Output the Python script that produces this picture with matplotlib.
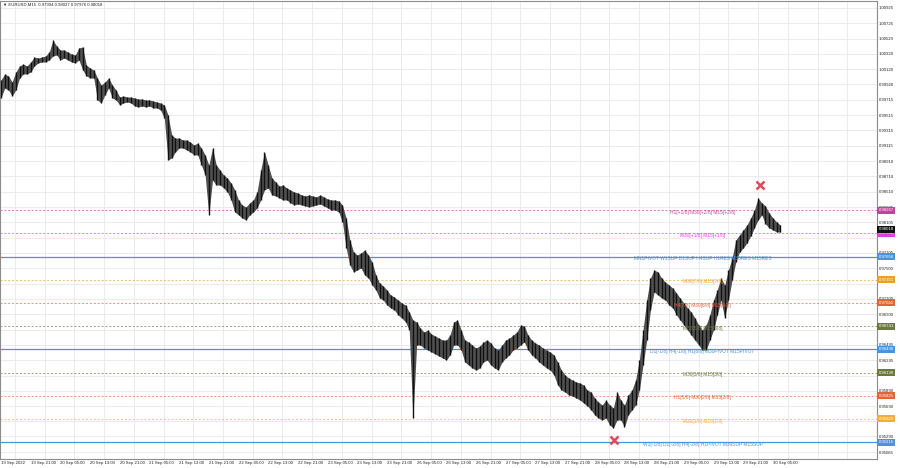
import numpy as np
import matplotlib
matplotlib.use("Agg")
import matplotlib.pyplot as plt
import matplotlib.transforms as mtransforms

plt.rcParams['font.family'] = ['Liberation Sans', 'DejaVu Sans']

# hourly high / low of EURUSD (bar index = hour)
hi = [0.99978, 1.00057, 1.00031, 0.99952, 1.00083, 1.00162, 1.00188, 1.00162, 1.00215, 1.00280,
      1.00267, 1.00280, 1.00294, 1.00346, 1.00504, 1.00425, 1.00373, 1.00373, 1.00346, 1.00320,
      1.00307, 1.00399, 1.00412, 1.00175, 1.00136, 1.00110, 1.00004, 0.99912, 0.99952, 1.00004,
      0.99912, 0.99847, 0.99754, 0.99768, 0.99754, 0.99754, 0.99741, 0.99728, 0.99728, 0.99715,
      0.99715, 0.99702, 0.99689, 0.99676, 0.99649, 0.99518, 0.99255, 0.99215, 0.99215, 0.99189,
      0.99189, 0.99163, 0.99123, 0.99150, 0.99084, 0.98992, 0.98860, 0.99084, 0.98860, 0.98795,
      0.98729, 0.98689, 0.98624, 0.98532, 0.98400, 0.98334, 0.98308, 0.98361, 0.98400, 0.98505,
      0.98795, 0.99031, 0.98860, 0.98689, 0.98637, 0.98584, 0.98597, 0.98558, 0.98532, 0.98505,
      0.98492, 0.98466, 0.98453, 0.98466, 0.98453, 0.98440, 0.98466, 0.98440, 0.98413, 0.98400,
      0.98400, 0.98387, 0.98334, 0.98163, 0.97874, 0.97716, 0.97676, 0.97703, 0.97742, 0.97676,
      0.97584, 0.97413, 0.97308, 0.97268, 0.97216, 0.97150, 0.97124, 0.97084, 0.97045, 0.97018,
      0.96926, 0.96821, 0.96795, 0.96716, 0.96663, 0.96690, 0.96637, 0.96611, 0.96584, 0.96558,
      0.96558, 0.96624, 0.96795, 0.96821, 0.96690, 0.96558, 0.96532, 0.96492, 0.96453, 0.96479,
      0.96532, 0.96558, 0.96519, 0.96453, 0.96426, 0.96492, 0.96558, 0.96584, 0.96624, 0.96663,
      0.96755, 0.96742, 0.96624, 0.96558, 0.96519, 0.96492, 0.96453, 0.96426, 0.96400, 0.96361,
      0.96268, 0.96163, 0.96097, 0.96058, 0.96032, 0.96005, 0.95992, 0.95966, 0.95900, 0.95874,
      0.95795, 0.95742, 0.95703, 0.95769, 0.95703, 0.95664, 0.95874, 0.95769, 0.95703, 0.95834,
      0.95900, 0.96032, 0.96295, 0.96690, 0.97084, 0.97374, 0.97479, 0.97453, 0.97374, 0.97321,
      0.97282, 0.97242, 0.97176, 0.97110, 0.97045, 0.96979, 0.96926, 0.96847, 0.96755, 0.96690,
      0.96755, 0.96887, 0.97084, 0.97216, 0.97374, 0.97282, 0.97479, 0.97637, 0.97874, 0.97940,
      0.98005, 0.98071, 0.98163, 0.98268, 0.98426, 0.98361, 0.98321, 0.98229, 0.98163, 0.98111,
      0.98071]
lo = [0.99741, 0.99873, 0.99847, 0.99768, 0.99847, 1.00004, 1.00057, 1.00057, 1.00083, 1.00162,
      1.00202, 1.00215, 1.00215, 1.00241, 1.00294, 1.00307, 1.00241, 1.00267, 1.00241, 1.00215,
      1.00202, 1.00241, 1.00110, 1.00031, 1.00004, 1.00004, 0.99715, 0.99676, 0.99781, 0.99873,
      0.99741, 0.99715, 0.99649, 0.99676, 0.99689, 0.99676, 0.99636, 0.99623, 0.99636, 0.99623,
      0.99636, 0.99610, 0.99610, 0.99583, 0.99478, 0.98926, 0.98952, 0.99031, 0.99084, 0.99084,
      0.99058, 0.99031, 0.98992, 0.98992, 0.98860, 0.98729, 0.98203, 0.98663, 0.98597, 0.98597,
      0.98558, 0.98505, 0.98400, 0.98242, 0.98203, 0.98163, 0.98137, 0.98203, 0.98242, 0.98295,
      0.98400, 0.98532, 0.98558, 0.98466, 0.98453, 0.98426, 0.98400, 0.98400, 0.98361, 0.98334,
      0.98347, 0.98334, 0.98321, 0.98308, 0.98321, 0.98334, 0.98347, 0.98321, 0.98295, 0.98268,
      0.98268, 0.98242, 0.98111, 0.97768, 0.97545, 0.97453, 0.97479, 0.97505, 0.97413, 0.97374,
      0.97282, 0.97216, 0.97110, 0.97084, 0.97018, 0.96979, 0.96953, 0.96887, 0.96847, 0.96795,
      0.96690, 0.95532, 0.96492, 0.96492, 0.96453, 0.96426, 0.96400, 0.96374, 0.96347, 0.96321,
      0.96295, 0.96361, 0.96492, 0.96492, 0.96426, 0.96268, 0.96229, 0.96189, 0.96163, 0.96189,
      0.96268, 0.96295, 0.96229, 0.96189, 0.96163, 0.96268, 0.96321, 0.96361, 0.96426, 0.96453,
      0.96492, 0.96532, 0.96426, 0.96361, 0.96321, 0.96268, 0.96229, 0.96189, 0.96163, 0.96097,
      0.95966, 0.95900, 0.95874, 0.95834, 0.95821, 0.95795, 0.95769, 0.95729, 0.95690, 0.95637,
      0.95571, 0.95532, 0.95506, 0.95532, 0.95440, 0.95401, 0.95506, 0.95506, 0.95414, 0.95571,
      0.95637, 0.95703, 0.95900, 0.96229, 0.96558, 0.96953, 0.97189, 0.97150, 0.97110, 0.97084,
      0.97018, 0.96979, 0.96887, 0.96821, 0.96755, 0.96690, 0.96624, 0.96558, 0.96492, 0.96426,
      0.96426, 0.96558, 0.96690, 0.96887, 0.97084, 0.96847, 0.97084, 0.97347, 0.97584, 0.97716,
      0.97768, 0.97834, 0.97926, 0.98032, 0.98137, 0.98203, 0.98084, 0.98032, 0.98005, 0.97979,
      0.97979]

# support / resistance levels
levels = [0.98267, 0.97963, 0.97656, 0.97351, 0.97045, 0.96741,
          0.96436, 0.96130, 0.95825, 0.95520, 0.95215]
level_text = ["H1[+1/8] M30[+2/8] M15[+2/8]",
              "M30[+1/8] M15[+1/8]",
              "MN1PIVOT W1SUP D1SUP H4SUP H1RES M30RES M15RES",
              "M30[7/8] M15[7/8]",
              "H4[7/8] M30[6/8] M15[6/8]",
              "M30[5/8] M15[5/8]",
              "D1[-1/8] H4[-1/8] H1[8/8] M30PIVOT M15PIVOT",
              "M30[3/8] M15[3/8]",
              "H1[5/8] M30[2/8] M15[2/8]",
              "M30[1/8] M15[1/8]",
              "W1[-1/8] D1[-2/8] H4[-2/8] H1PIVOT M30SUP M15SUP"]
level_color = ["#c8409e", "#e040e0", "#4a94dc", "#eca02c", "#e4643a", "#6b7a3c",
               "#4a94dc", "#6b7a3c", "#e4643a", "#f0b038", "#4a94dc"]
level_solid = [False, False, True, False, False, False, True, False, False, False, True]

# price scale labels
price_ticks = [1.00925, 1.00725, 1.00520, 1.00320, 1.00120, 0.99920, 0.99715, 0.99515,
               0.99315, 0.99115, 0.98910, 0.98710, 0.98510, 0.98305, 0.98105, 0.97905,
               0.97705, 0.97500, 0.97300, 0.97100, 0.96900, 0.96695, 0.96495, 0.96295,
               0.96090, 0.95890, 0.95690, 0.95490, 0.95290, 0.95085]
hidden_ticks = [0.97905, 0.97300, 0.96695, 0.96090, 0.95490]

time_labels = ["19 Sep 2022", "19 Sep 21:00", "20 Sep 05:00", "20 Sep 13:00", "20 Sep 21:00",
               "21 Sep 05:00", "21 Sep 13:00", "21 Sep 21:00", "22 Sep 05:00", "22 Sep 13:00",
               "22 Sep 21:00", "23 Sep 05:00", "23 Sep 13:00", "23 Sep 21:00", "26 Sep 05:00",
               "26 Sep 13:00", "26 Sep 21:00", "27 Sep 05:00", "27 Sep 13:00", "27 Sep 21:00",
               "28 Sep 05:00", "28 Sep 13:00", "28 Sep 21:00", "29 Sep 05:00", "29 Sep 13:00",
               "29 Sep 21:00", "30 Sep 05:00"]

# red cross markers (bar index, price)
cross_x = [204.5, 165.3]
cross_y = [0.98597, 0.95243]

last_price = 0.98018
header = "EURUSD,M15  0.97994 0.98027 0.97976 0.98018"

W, H = 900, 468
fig = plt.figure(figsize=(W / 100, H / 100), dpi=100)
ax = fig.add_axes([0, 9 / H, 877 / W, 458 / H])
px = 3.745  # pixels per hourly bar
ax.set_xlim(-1 / px, 876 / px)
ax.set_ylim(0.94993, 1.01017)

x = np.arange(len(hi))
ax.fill_between(x, lo, hi, color="#505050", lw=0, zorder=3)
ax.vlines(x, lo, hi, color="#101010", lw=1.0, zorder=4)

for lv, txt, col, solid in zip(levels, level_text, level_color, level_solid):
    if solid:
        ax.axhline(lv, color=col, lw=0.9, zorder=2)
    else:
        ax.axhline(lv, color=col, lw=0.7, ls=(0, (2, 2)), alpha=0.7, zorder=2)
    ax.annotate(txt, (708 / px, lv), xytext=(0, -1.5), textcoords="offset points",
                ha="center", va="center", fontsize=3.5, color=col, zorder=5)

ax.plot(cross_x, cross_y, "x", color="#e04a5a", ms=6, mew=1.8, zorder=6)

# price axis
ax.yaxis.tick_right()
ax.set_yticks(price_ticks)
ax.set_yticklabels(["" if t in hidden_ticks else f"{t:.5f}" for t in price_ticks])
ax.tick_params(axis="y", length=0, pad=1.4, labelsize=3.1, labelcolor="#222222")

# time axis: labels left aligned, grid half way between
tick_k = [0] + [8 + 8 * i for i in range(len(time_labels) - 1)]
ax.set_xticks(tick_k)
ax.set_xticklabels(time_labels)
for lab in ax.get_xticklabels():
    lab.set_ha("left")
ax.tick_params(axis="x", length=0, pad=1.5, labelsize=3.1, labelcolor="#222222")
grid_k = [(14 + 30 * i) / px for i in range(30)]
ax.set_xticks(grid_k, minor=True)
ax.tick_params(axis="x", which="minor", length=0)
ax.grid(axis="y", which="major", color="#e8e8e8", lw=0.6, zorder=0)
ax.grid(axis="x", which="minor", color="#e8e8e8", lw=0.6, zorder=0)
ax.set_axisbelow(True)

for sp in ax.spines.values():
    sp.set_color("#8c8c8c")
    sp.set_linewidth(0.8)

# coloured price tags on the scale
tag_tr = mtransforms.blended_transform_factory(fig.transFigure, ax.transData)
for lv, col in zip(levels, level_color):
    ax.text(878.5 / W, lv, f"{lv:.5f}", transform=tag_tr, ha="left", va="center",
            fontsize=3.1, color="white", clip_on=False, zorder=10,
            bbox=dict(boxstyle="square,pad=0.35", fc=col, ec="none"))
ax.text(878.5 / W, last_price, f"{last_price:.5f}", transform=tag_tr, ha="left",
        va="center", fontsize=3.1, color="white", clip_on=False, zorder=11,
        bbox=dict(boxstyle="square,pad=0.35", fc="#111111", ec="none"))

fig.text(3 / W, 1 - 5 / H, "\u25bc " + header, ha="left", va="center",
         fontsize=3.1, color="#222222")

fig.savefig("out.png", dpi=100, facecolor="white")
plt.close(fig)
